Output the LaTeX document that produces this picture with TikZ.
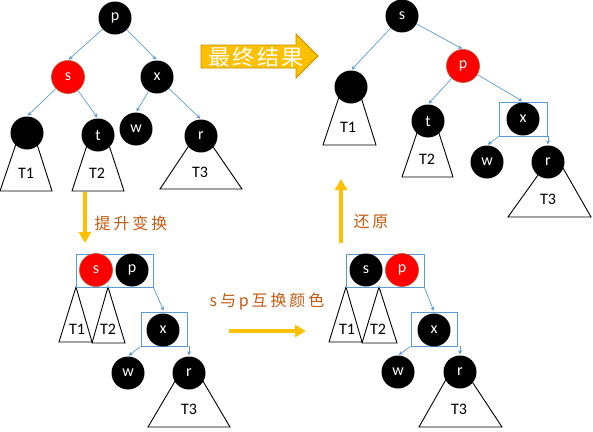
\documentclass[tikz,border=0pt]{standalone}
\usepackage{fontspec}
\setmainfont{Carlito}
\newfontfamily\cjk[LetterSpace=18]{Noto Sans CJK SC}
\newfontfamily\cjkbig[LetterSpace=10]{Noto Sans CJK SC}
\usetikzlibrary{arrows.meta}
\definecolor{linkblue}{RGB}{91,155,213}
\definecolor{gold}{RGB}{255,192,0}
\definecolor{golddark}{RGB}{191,144,0}
\definecolor{rust}{RGB}{197,90,17}
\definecolor{nodered}{RGB}{255,0,0}
\definecolor{redline}{RGB}{192,80,40}

\begin{document}
\begin{tikzpicture}[
  x=1pt,y=-1pt,
  nd/.style={circle,fill=black,minimum size=33pt,inner sep=0pt,text=white,font=\fontsize{16}{18}\selectfont},
  rd/.style={nd,fill=nodered,draw=redline,line width=0.6pt},
  sel/.style={draw=linkblue,line width=0.8pt,inner sep=0pt},
  arr/.style={-{Stealth[length=4pt,width=4pt]},draw=linkblue,line width=0.7pt,shorten >=1pt},
  tri/.style={draw=black,line width=0.9pt},
  lab/.style={font=\fontsize{16}{18}\selectfont},
  note/.style={text=rust,font=\cjk\fontsize{16}{18}\selectfont},
  yarr/.style={-{Triangle[length=11pt,width=12pt]},draw=gold,line width=3.5pt}
]
\useasboundingbox (0,0) rectangle (593,431);

% subtrees
\draw[tri] (17,141) -- (0,191) -- (52,191) -- (36,141);
\draw[tri] (88,142) -- (72,191) -- (124,191) -- (108,142);
\draw[tri] (192,141) -- (160,189) -- (242,189) -- (209,141);
\draw[tri] (340,94) -- (323,145) -- (376,145) -- (360,94);
\draw[tri] (419,127) -- (402,177) -- (453,177) -- (437,127);
\draw[tri] (543,168) -- (508,217) -- (591,217) -- (563,168);
\draw[tri] (76,287) -- (59,342) -- (92,342) -- cycle;
\draw[tri] (108,287) -- (92,343) -- (125,343) -- cycle;
\draw[tri] (177.5,377) -- (148,427) -- (230,427) -- (200.5,377);
\draw[tri] (346,287) -- (329,342) -- (362,342) -- cycle;
\draw[tri] (379,287) -- (362,343) -- (397,343) -- cycle;
\draw[tri] (447.4,377) -- (419,427) -- (502,427) -- (469,377);

% before
\node[nd] (p0) at (115,18) {p};
\node[rd] (s0) at (68,77) {s};
\node[nd] (x0) at (157,77) {x};
\node[nd] (n0) at (27,133) {};
\node[nd] (t0) at (98,135) {t};
\node[nd] (w0) at (136,129) {w};
\node[nd] (r0) at (201,136) {r};
\node[lab] (ta0) at (26,173) {T1};
\node[lab] (tb0) at (97,173) {T2};
\node[lab] (tc0) at (200,172) {T3};
\draw[arr] (p0) -- (s0.north);
\draw[arr] (p0) -- (x0.north);
\draw[arr] (s0) -- (n0.north);
\draw[arr] (s0) -- (t0.north);
\draw[arr] (x0) -- (w0.north);
\draw[arr] (x0) -- (r0.north);

% after rotation
\node[sel,minimum width=77pt,minimum height=33pt] (bsp1) at (114.5,270.5) {};
\node[rd] (s1) at (96,270) {s};
\node[nd] (p1) at (132,270) {p};
\node[sel,minimum width=46pt,minimum height=34pt] (bx1) at (164,329) {};
\node[nd] (x1) at (163,330) {x};
\node[nd] (w1) at (128,373) {w};
\node[nd] (r1) at (189,373) {r};
\node[lab] (ta1) at (77,329) {T1};
\node[lab] (tb1) at (108,329) {T2};
\node[lab] (tc1) at (189,409) {T3};
\draw[arr] (bsp1.south east) -- (bx1.north);
\draw[arr] (bx1.south west) -- (w1.north);
\draw[arr] (bx1.south -| r1) -- (r1.north);

% colours swapped
\node[sel,minimum width=78pt,minimum height=33pt] (bsp2) at (385,270.5) {};
\node[nd] (s2) at (366,270) {s};
\node[rd] (p2) at (402,270) {p};
\node[sel,minimum width=46pt,minimum height=34pt] (bx2) at (434,329) {};
\node[nd] (x2) at (434,330) {x};
\node[nd] (w2) at (398,372) {w};
\node[nd] (r2) at (460,372) {r};
\node[lab] (ta2) at (347,329) {T1};
\node[lab] (tb2) at (378,329) {T2};
\node[lab] (tc2) at (459,409) {T3};
\draw[arr] (bsp2.south east) -- (bx2.north);
\draw[arr] (bx2.south west) -- (w2.north);
\draw[arr] (bx2.south -| r2) -- (r2.north);

% result
\node[nd] (s3) at (402,16) {s};
\node[nd] (n3) at (351,87) {};
\node[rd] (p3) at (463,66) {p};
\node[nd] (t3) at (428,121) {t};
\node[sel,minimum width=48pt,minimum height=34pt] (bx3) at (523,119) {};
\node[nd] (x3) at (523,119) {x};
\node[nd] (w3) at (487,162) {w};
\node[nd] (r3) at (548,162) {r};
\node[lab] (ta3) at (348,127) {T1};
\node[lab] (tb3) at (427,159) {T2};
\node[lab] (tc3) at (548,199) {T3};
\draw[arr] (s3) -- (n3.north);
\draw[arr] (s3) -- (p3.north);
\draw[arr] (p3) -- (t3.north);
\draw[arr] (p3) -- (bx3.north);
\draw[arr] (bx3.south west) -- (w3.north);
\draw[arr] (bx3.south -| r3) -- (r3.north);

% yellow steps
\draw[fill=gold,draw=golddark,line width=0.8pt] (201,45) -- (296,45) -- (296,34) -- (318,56)
  -- (296,78) -- (296,68) -- (201,68) -- cycle;
\node[text=white,font=\cjkbig\fontsize{22}{24}\selectfont] (fin) at (256,57) {最终结果};
\coordinate (c1a) at (85,192);
\coordinate (c1b) at (85,243);
\coordinate (c2a) at (229,331);
\coordinate (c2b) at (306,331);
\coordinate (c3a) at (341,243);
\coordinate (c3b) at (341,179);
\draw[yarr] (c1a) -- (c1b);
\draw[yarr] (c2a) -- (c2b);
\draw[yarr] (c3a) -- (c3b);
\node[note] (nt1) at (131,223) {提升变换};
\node[note] (nt2) at (267,302) {s与p互换颜色};
\node[note] (nt3) at (371,222) {还原};
\end{tikzpicture}
\end{document}
